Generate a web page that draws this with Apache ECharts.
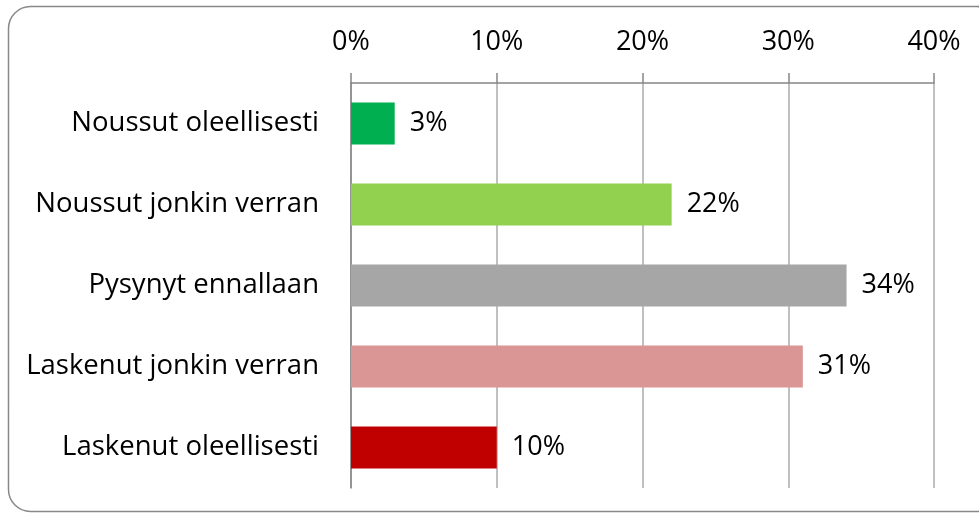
<!DOCTYPE html>
<html>
<head>
<meta charset="utf-8">
<script src="https://cdn.jsdelivr.net/npm/echarts@6/dist/echarts.min.js"></script>
<style>
  html, body { margin: 0; padding: 0; background: #fff; }
  #chart { width: 979px; height: 513px; }
</style>
</head>
<body>
<div id="chart"></div>
<script>
// data
const categories = ['Noussut oleellisesti', 'Noussut jonkin verran', 'Pysynyt ennallaan', 'Laskenut jonkin verran', 'Laskenut oleellisesti'];
const values = [3, 22, 34, 31, 10];
const barColors = ['#00b050', '#92d050', '#a6a6a6', '#d99694', '#c00000'];

const font = 'Open Sans';

let myChart = echarts.init(document.getElementById('chart'));
let option = {
  backgroundColor: '#fff',
  animation: false,
  graphic: [{
    type: 'rect',
    shape: { x: 8.5, y: 6.5, width: 990, height: 505, r: 22 },
    style: { fill: 'none', stroke: '#888', lineWidth: 1.5 },
    z: -1
  }],
  grid: { left: 351, right: 45, top: 83, bottom: 25 },
  xAxis: {
    type: 'value',
    position: 'top',
    min: 0,
    max: 40,
    interval: 10,
    axisLine: { show: true, lineStyle: { color: '#868686', width: 1.5 } },
    axisTick: { show: true, length: 10, lineStyle: { color: '#868686', width: 1.5 } },
    splitLine: { show: true, lineStyle: { color: '#c0c0c0', width: 2 } },
    axisLabel: {
      formatter: '{value}%',
      color: '#000',
      fontFamily: font,
      fontSize: 27,
      margin: 27
    }
  },
  yAxis: {
    type: 'category',
    data: categories,
    inverse: true,
    axisLine: { show: true, lineStyle: { color: '#868686', width: 1.5 } },
    axisTick: { show: false },
    axisLabel: {
      color: '#000',
      fontFamily: font,
      fontSize: 27.5,
      margin: 32
    }
  },
  series: [{
    type: 'bar',
    data: values.map((v, i) => ({ value: v, itemStyle: { color: barColors[i] } })),
    barWidth: 42,
    label: {
      show: true,
      position: 'right',
      distance: 15,
      formatter: '{c}%',
      color: '#000',
      fontFamily: font,
      fontSize: 27
    }
  }]
};
myChart.setOption(option);
</script>
</body>
</html>
